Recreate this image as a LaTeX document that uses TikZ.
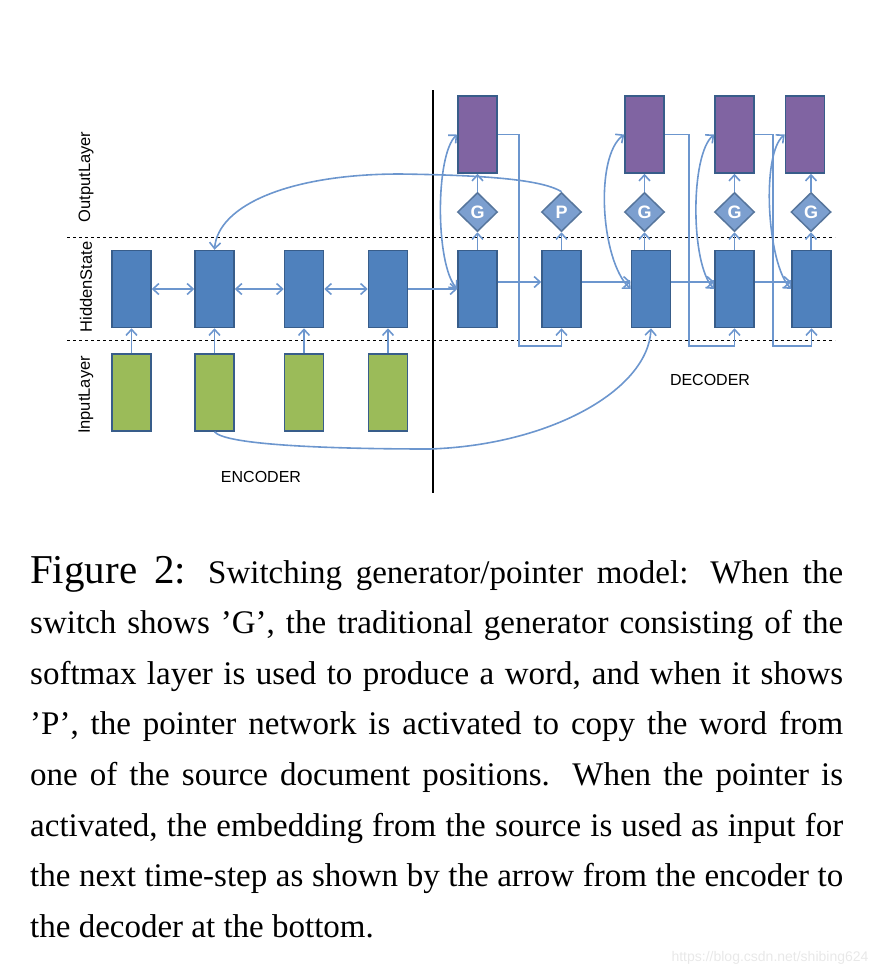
\documentclass[tikz,border=0pt]{standalone}
\usepackage{fontspec}
\setmainfont{Liberation Serif}
\newfontfamily\labelfont{Liberation Sans}
\usetikzlibrary{shapes.geometric, arrows.meta, positioning}
\definecolor{hidblue}{RGB}{79,129,189}
\definecolor{ingreen}{RGB}{155,187,89}
\definecolor{outpurple}{RGB}{128,100,162}
\definecolor{edgeblue}{RGB}{56,93,138}
\definecolor{gateblue}{RGB}{124,159,207}
\definecolor{wireblue}{RGB}{108,150,206}
\tikzset{
    cell/.style={
        rectangle,
        draw=edgeblue,
        line width=1.5pt,
        minimum width=39pt,
        minimum height=77pt,
        inner sep=0pt
    },
    hidbox/.style={cell, fill=hidblue},
    inbox/.style={cell, fill=ingreen},
    outbox/.style={cell, fill=outpurple},
    gate/.style={
        diamond,
        draw=edgeblue!85,
        fill=gateblue,
        line width=1.5pt,
        minimum width=40pt,
        minimum height=39pt,
        inner sep=0pt,
        text=white,
        font=\labelfont\bfseries\fontsize{18}{18}\selectfont
    },
    wire/.style={
        wireblue, line width=1.6pt
    },
    arrow/.style={
        wire, -{Straight Barb[length=6pt,width=11pt]}
    },
    biarrow/.style={
        wire, {Straight Barb[length=6pt,width=11pt]}-{Straight Barb[length=6pt,width=11pt]}
    },
    layertext/.style={
        rotate=90,
        font=\labelfont\fontsize{16.5}{16.5}\selectfont
    },
    parttext/.style={
        font=\labelfont\fontsize{16}{16}\selectfont
    }
}

\begin{document}
\begin{tikzpicture}[x=1pt, y=-1pt, node distance=25pt]

\useasboundingbox (0,0) rectangle (880,978);

\draw[dashed, line width=1pt] (67,237) -- (835,237);
\draw[dashed, line width=1pt] (67,340) -- (835,340);
\draw[line width=1.5pt] (433,90) -- (433,493);

\node (outlab) [layertext] at (86,177) {OutputLayer};
\node (hidlab) [layertext] at (86,287) {HiddenState};
\node (inlab) [layertext] at (86,395) {InputLayer};

\node (h1) [hidbox] at (131.5,289) {};
\node (h2) [hidbox] at (214.5,289) {};
\node (h3) [hidbox] at (304,289) {};
\node (h4) [hidbox] at (388,289) {};
\node (i1) [inbox, below=of h1] {};
\node (i2) [inbox, below=of h2] {};
\node (i3) [inbox, below=of h3] {};
\node (i4) [inbox, below=of h4] {};

\node (d1) [hidbox] at (477.5,289) {};
\node (d2) [hidbox] at (561.5,289) {};
\node (d3) [hidbox] at (651,289) {};
\node (d4) [hidbox] at (734.5,289) {};
\node (d5) [hidbox] at (811.5,289) {};

\node (g1) [gate] at (477.5,212) {G};
\node (p2) [gate] at (561.5,212) {P};
\node (g3) [gate] at (644.5,212) {G};
\node (g4) [gate] at (734.5,212) {G};
\node (g5) [gate] at (811,212) {G};

\node (o1) [outbox] at (477.5,134.5) {};
\node (o3) [outbox] at (644.5,134.5) {};
\node (o4) [outbox] at (734.5,134.5) {};
\node (o5) [outbox] at (805,134.5) {};

\node (enc) [parttext] at (261,477) {ENCODER};
\node (dec) [parttext] at (710,380) {DECODER};

\draw [arrow] (i1) -- (h1);
\draw [arrow] (i2) -- (h2);
\draw [arrow] (i3) -- (h3);
\draw [arrow] (i4) -- (h4);
\draw [biarrow] (h1) -- (h2);
\draw [biarrow] (h2) -- (h3);
\draw [biarrow] (h3) -- (h4);
\draw [arrow] (h4) -- (d1);

\draw [arrow] ([yshift=7pt]d1.east) -- ([yshift=7pt]d2.west);
\draw [arrow] ([yshift=7pt]d2.east) -- ([yshift=7pt]d3.west);
\draw [arrow] ([yshift=7pt]d3.east) -- ([yshift=7pt]d4.west);
\draw [arrow] ([yshift=7pt]d4.east) -- ([yshift=7pt]d5.west);

\draw [arrow] (d1.north) -- (g1.south);
\draw [arrow] (d2.north) -- (p2.south);
\draw [arrow] (g3 |- d3.north) -- (g3.south);
\draw [arrow] (d4.north) -- (g4.south);
\draw [arrow] (g5 |- d5.north) -- (g5.south);
\draw [arrow] (g1.north) -- (o1.south);
\draw [arrow] (g3.north) -- (o3.south);
\draw [arrow] (g4.north) -- (o4.south);
\draw [arrow] (g5.north) -- (g5 |- o5.south);

\draw [arrow] (o1.east) -| (519,346) -| (d2.south);
\draw [arrow] (o3.east) -| (689,346) -| (d4.south);
\draw [arrow] (o4.east) -| (773,346) -| (d5.south);

\draw [biarrow] (o1.west) .. controls +(-22,20) and +(-22,-25) .. (d1.west);
\draw [biarrow] (o3.west) .. controls +(-30,22) and +(-30,-28) .. (d3.west);
\draw [biarrow] (o4.west) .. controls +(-24,20) and +(-24,-25) .. (d4.west);
\draw [biarrow] (o5.west) .. controls +(-24,20) and +(-24,-25) .. (d5.west);

\draw [arrow] (p2.north) .. controls (540,178) and (470,175) .. (400,174)
    .. controls (290,174) and (218,205) .. (h2.north);
\draw [arrow] (i2.south) .. controls (225,445) and (330,449) .. (430,449)
    .. controls (550,445) and (648,390) .. (d3.south);

\node (caption) [anchor=base west, text width=813pt, align=justify, inner sep=0pt,
    font=\fontsize{33}{50.6}\selectfont] at (30,583)
    {{\fontsize{41}{50.6}\selectfont Figure 2:} Switching generator/pointer model: When the\linebreak
    switch shows ’G’, the traditional generator consisting of the\linebreak
    softmax layer is used to produce a word, and when it shows\linebreak
    ’P’, the pointer network is activated to copy the word from\linebreak
    one of the source document positions. When the pointer is\linebreak
    activated, the embedding from the source is used as input for\linebreak
    the next time-step as shown by the arrow from the encoder to\linebreak
    the decoder at the bottom.};

\node (mark) [anchor=east, text=black!9, font=\labelfont\fontsize{14}{14}\selectfont] at (872,958) {https://blog.csdn.net/shibing624};

\end{tikzpicture}
\end{document}
